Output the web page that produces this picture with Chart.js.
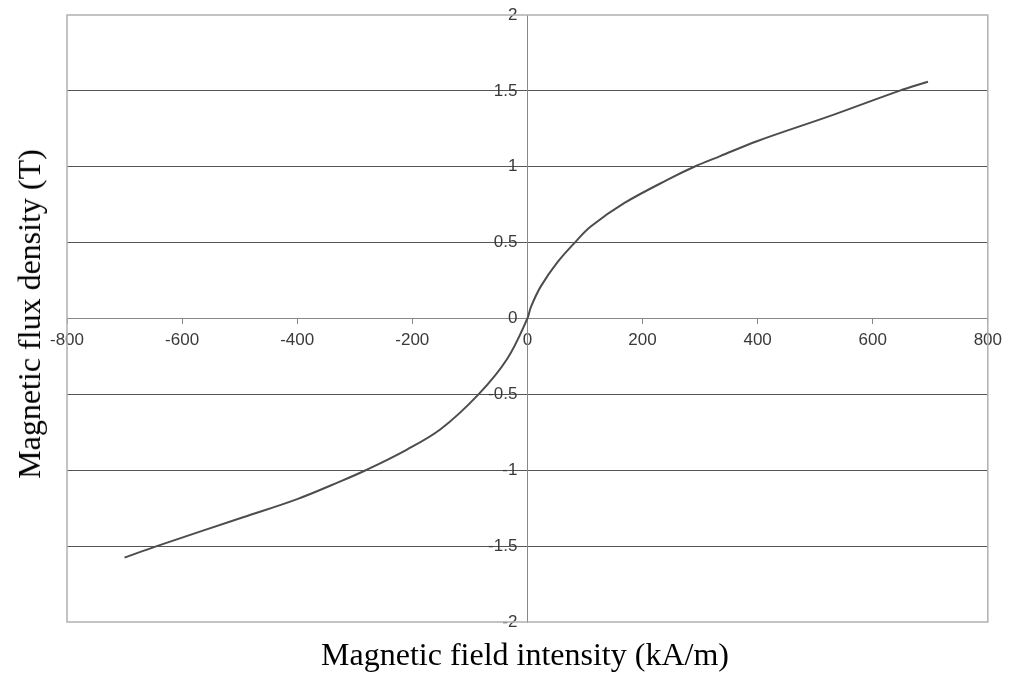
<!DOCTYPE html>
<html>
<head>
<meta charset="utf-8">
<script src="https://cdn.jsdelivr.net/npm/chart.js@4/dist/chart.umd.min.js"></script>
<style>
  html, body { margin: 0; padding: 0; background: #fff; }
  #wrap { position: relative; width: 1009px; height: 673px; }
  canvas { position: absolute; left: 0; top: 0; }
  .title { position: absolute; font-family: "Liberation Serif", "Times New Roman", serif; font-size: 32px; color: #000; white-space: nowrap; line-height: 1; }
  #xtitle { left: 525px; top: 638px; transform: translateX(-50%); }
  #ytitle { left: 29px; top: 314px; transform: translate(-50%, -50%) rotate(-90deg); }
</style>
</head>
<body>
<div id="wrap">
  <canvas id="c" width="1009" height="673"></canvas>
  <div class="title" id="xtitle">Magnetic field intensity (kA/m)</div>
  <div class="title" id="ytitle">Magnetic flux density (T)</div>
</div>
<script>
// Data (H in kA/m, B in T)
const fieldIntensity = [-700, -644, -494, -400, -326, -281, -210, -151, -85, -35, 0, 6, 23, 52, 84, 110, 168, 249, 290, 335, 400, 530, 646, 696];
const fluxDensity = [-1.575, -1.5, -1.31, -1.19, -1.075, -1.0, -0.865, -0.73, -0.5, -0.265, 0, 0.075, 0.21, 0.37, 0.507, 0.606, 0.76, 0.925, 1.0, 1.07, 1.17, 1.34, 1.5, 1.56];
const xTickValues = [-800, -600, -400, -200, 0, 200, 400, 600, 800];
const yTickValues = [-2, -1.5, -1, -0.5, 0, 0.5, 1, 1.5, 2];

const points = fieldIntensity.map((h, i) => ({ x: h, y: fluxDensity[i] }));

const frame = {
  id: 'frame',
  afterDraw(chart) {
    const { ctx, chartArea: a } = chart;
    ctx.save();
    ctx.strokeStyle = '#b0b0b0';
    ctx.lineWidth = 1.5;
    ctx.strokeRect(a.left, a.top, a.right - a.left, a.bottom - a.top);
    ctx.restore();
  }
};

const tickFont = { family: '"Liberation Sans", Arial, sans-serif', size: 17 };

new Chart(document.getElementById('c'), {
  type: 'scatter',
  data: {
    datasets: [{
      data: points,
      xAxisID: 'x',
      yAxisID: 'y',
      showLine: true,
      borderColor: '#4d4d4d',
      borderWidth: 2,
      pointRadius: 0,
      tension: 0.35,
      fill: false
    }]
  },
  options: {
    responsive: false,
    animation: false,
    devicePixelRatio: 1,
    layout: { padding: { left: 67, right: 20, top: 15, bottom: 51 } },
    plugins: { legend: { display: false }, tooltip: { enabled: false } },
    scales: {
      x: {
        type: 'linear',
        min: -800, max: 800,
        position: { y: 0 },
        afterBuildTicks: (s) => { s.ticks = xTickValues.map(v => ({ value: v })); },
        afterFit: (s) => { s.height = 0; },
        ticks: {
          callback: (v) => String(v),
          color: '#3a3a3a',
          font: tickFont,
          padding: 7,
          maxRotation: 0, autoSkip: false
        },
        grid: { display: true, drawOnChartArea: false, drawTicks: true, tickLength: 5, color: '#888' },
        border: { display: true, color: '#888', width: 1 }
      },
      y: {
        type: 'linear',
        min: -2, max: 2,
        position: { x: 0 },
        afterBuildTicks: (s) => { s.ticks = yTickValues.map(v => ({ value: v })); },
        afterFit: (s) => { s.width = 0; },
        ticks: { display: false },
        grid: {
          drawTicks: false,
          color: (c) => (c.tick && c.tick.value === 0) ? '#888' : (c.tick && Math.abs(c.tick.value) === 2 ? 'rgba(0,0,0,0)' : '#555'),
          lineWidth: 1
        },
        border: { display: true, color: '#888', width: 1 }
      },
      yLabels: {
        type: 'linear',
        axis: 'y',
        min: -2, max: 2,
        position: { x: -17.4 },
        afterBuildTicks: (s) => { s.ticks = yTickValues.map(v => ({ value: v })); },
        afterFit: (s) => { s.width = 0; },
        ticks: {
          callback: (v) => String(v),
          color: '#3a3a3a',
          font: tickFont,
          padding: 0,
          autoSkip: false
        },
        grid: { display: false, drawTicks: false },
        border: { display: false }
      }
    }
  },
  plugins: [frame]
});
</script>
</body>
</html>
